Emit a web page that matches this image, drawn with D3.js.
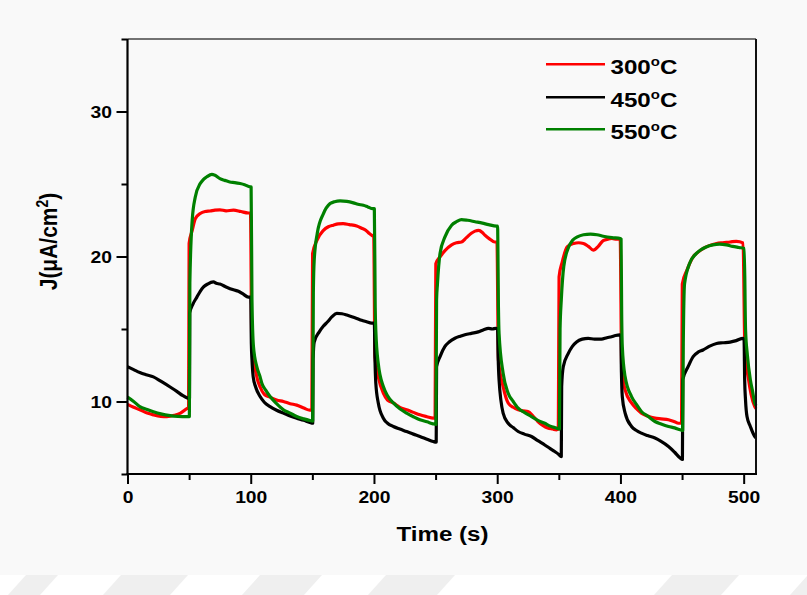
<!DOCTYPE html>
<html>
<head>
<meta charset="utf-8">
<script src="https://cdn.jsdelivr.net/npm/d3@7"></script>
<style>
  html, body { margin: 0; padding: 0; background: #ffffff; }
  svg { display: block; }
  text { font-family: "Liberation Sans", Arial, sans-serif; font-weight: bold; fill: #000; }
</style>
</head>
<body>
<svg id="chart" width="807" height="595"></svg>
<script>
// Tick values
const xMajorTicks = [0, 100, 200, 300, 400, 500];
const xMinorTicks = [50, 150, 250, 350, 450];
const yMajorTicks = [10, 20, 30];
const yMinorTicks = [5, 15, 25, 35];

// Series labels (annealing temperature) and colours
const seriesTemps = ["300", "450", "550"];
const seriesColors = ["#ff0000", "#000000", "#008000"];

// Photocurrent density J (µA/cm²) vs time (s), light chopped every 50 s
const j300 = [
  [0,9.8],[5,9.6],[10,9.43],[16,9.2],[21,9.08],[27,8.98],[32,8.96],[38,9.05],[43,9.2],[48,9.5],[49.6,9.6],
  [50,20.9],[52.5,21.8],[55,22.6],[59,22.96],[63,23.1],[67,23.14],[71,23.2],[75,23.22],[80,23.15],[86,23.2],[92,23.1],[98,23.0],[99.8,23.0],
  [100.8,14.2],[102,13.0],[103.5,12.3],[105.5,11.5],[107.6,11.0],[111,10.5],[115.7,10.3],[121,10.1],[126.5,10.0],[132,9.85],[137.3,9.75],[143,9.55],[148,9.4],[149.6,9.4],
  [150.2,20.2],[153.6,21.1],[159,21.8],[163,22.05],[167,22.16],[171,22.25],[175,22.27],[180,22.2],[186,22.1],[190,21.95],[193.6,21.8],[196,21.6],[198.5,21.45],[199.8,21.4],
  [200.8,13.1],[203.5,11.7],[207.6,10.57],[211,10.1],[215.7,9.9],[221,9.6],[226.5,9.43],[232,9.25],[237.3,9.08],[243,8.95],[248,8.85],[249.6,8.85],
  [250.2,19.5],[253.6,19.97],[257.6,20.4],[263,20.8],[267,20.95],[271,21.0],[275,21.3],[279,21.6],[282,21.75],[285,21.8],[288,21.65],[290,21.47],[294,21.2],[298,21.0],[299.8,21.0],
  [301,12.87],[304.8,11.03],[308.9,9.9],[313,9.6],[317,9.43],[321,9.35],[325,9.31],[329,9.0],[333,8.62],[337,8.35],[341,8.17],[345,8.1],[348,8.05],[349.6,8.1],
  [350.2,18.6],[352.7,19.6],[356.8,20.66],[362,20.9],[366,20.95],[370,20.9],[374,20.7],[378,20.44],[382,20.7],[386,21.1],[390,21.2],[393,21.24],[397,21.2],[399.8,21.2],
  [401,12.4],[403.8,10.8],[409,9.9],[413,9.5],[417,9.2],[422,9.0],[428,8.85],[433,8.8],[439,8.74],[444,8.6],[447,8.5],[449.6,8.5],
  [450.2,18.1],[454,19.06],[459,19.97],[463,20.3],[467,20.55],[472,20.75],[478,20.9],[483,20.95],[489,21.0],[494,21.05],[499.5,20.94],
  [501,13.55],[504,11.5],[506,10.5],[509,9.65],[510,9.5]
];

const j450 = [
  [0,12.4],[5,12.2],[10,12.0],[15,11.85],[21,11.7],[27,11.4],[34.6,11.0],[40,10.7],[45,10.4],[49,10.23],[50.3,10.2],
  [50.5,16.1],[53,16.7],[56.3,17.2],[59,17.6],[61.7,17.9],[65,18.1],[69.7,18.25],[72,18.15],[75,18.1],[80,17.9],[86,17.7],[90,17.6],[94,17.4],[98,17.2],[100,17.2],
  [100.5,14.0],[101,12.9],[102,11.7],[104,11.0],[107.6,10.34],[111,9.95],[115.7,9.65],[121,9.4],[126.5,9.2],[132,9.0],[137.3,8.85],[143,8.7],[148,8.55],[150.3,8.5],
  [150.6,12.87],[151.5,14.1],[155.6,14.8],[159,15.2],[162.4,15.5],[166,15.85],[169.8,16.08],[174,16.05],[178,15.96],[182,15.85],[186,15.73],[190,15.6],[194,15.5],[198,15.4],[200.3,15.4],
  [200.8,13.0],[201.5,11.26],[203.5,9.9],[207.6,8.85],[211,8.5],[215.7,8.28],[221,8.1],[226.5,7.93],[232,7.75],[237.3,7.59],[243,7.4],[248,7.24],[250.5,7.2],
  [250.8,12.4],[253.6,13.1],[257.6,13.8],[261,14.1],[265.7,14.36],[270,14.5],[273.8,14.6],[279,14.7],[284.6,14.8],[289,14.95],[292.8,15.05],[296,15.0],[299,15.05],[300.3,15.0],
  [300.8,13.0],[301.5,11.5],[304.8,9.2],[308.9,8.5],[313,8.2],[317,7.93],[322,7.75],[327.8,7.59],[333,7.3],[338.6,7.0],[343,6.75],[346.7,6.55],[350,6.35],[352,6.2],
  [352.3,11.03],[353.6,12.4],[357.6,13.3],[361,13.8],[364.4,14.1],[369,14.3],[373.8,14.36],[379,14.3],[384.6,14.3],[389,14.4],[392.8,14.47],[396,14.55],[399.5,14.59],[400.3,14.5],
  [400.8,12.0],[401.5,10.34],[403.8,9.2],[409,8.28],[413,8.0],[417,7.82],[422,7.65],[428,7.48],[433,7.25],[439,6.9],[444,6.5],[448.5,6.1],[450.3,6.0],
  [450.6,11.5],[454.9,12.4],[459,13.1],[463,13.4],[467,13.55],[472,13.8],[478,14.0],[483,14.05],[489,14.1],[494,14.2],[499.5,14.36],[500.3,14.3],
  [500.8,11.5],[501.5,10.1],[502.7,8.96],[505.4,8.28],[509,7.59],[510,7.5]
];

const j550 = [
  [0,10.3],[5,10.0],[10,9.65],[16,9.45],[21,9.3],[27,9.15],[34.6,9.03],[41,8.98],[48,8.96],[50.2,8.96],
  [50.6,18.2],[52.5,22.5],[55,24.1],[59,25.03],[61.5,25.3],[64.4,25.5],[68.5,25.67],[71,25.6],[75,25.37],[79,25.25],[83,25.14],[87,25.1],[91.4,25.03],[95,24.95],[99.5,24.8],[100.3,24.8],
  [101,17.0],[102.2,13.8],[104.9,12.4],[107.6,11.7],[109,11.26],[112,10.8],[115.7,10.34],[121,9.85],[126.5,9.43],[132,9.2],[137.3,8.96],[143,8.8],[148,8.69],[150.3,8.65],
  [150.8,17.5],[151.5,19.75],[154,21.6],[159,22.96],[164.4,23.65],[168,23.78],[172.5,23.83],[178,23.8],[183.3,23.7],[187,23.6],[191.4,23.53],[195,23.42],[199,23.3],[200.3,23.3],
  [201,16.5],[201.5,14.9],[203.5,12.6],[207.6,11.03],[211,10.4],[215.7,9.9],[221,9.5],[226.5,9.2],[232,8.95],[237.3,8.74],[243,8.6],[248,8.46],[250.3,8.42],
  [250.8,17.0],[251.5,18.1],[253.6,20.2],[257.6,21.35],[263,22.16],[267,22.4],[271,22.55],[276,22.5],[282,22.4],[288,22.3],[293,22.2],[299.5,22.1],[300.3,22.1],
  [301,16.5],[301.5,14.7],[304.8,11.95],[308.9,10.57],[313,10.0],[317,9.54],[322,9.25],[327.8,8.96],[333,8.7],[338.6,8.5],[343,8.3],[348,8.17],[350.5,8.1],
  [351,15.0],[352,17.0],[354,19.3],[358,20.66],[361,21.1],[365,21.35],[370,21.5],[375.7,21.54],[381,21.5],[386,21.4],[393,21.3],[400,21.24],[400.5,21.2],
  [401,16.0],[401.5,13.8],[403.8,11.7],[409,10.34],[413,9.8],[417,9.31],[422,9.0],[428,8.62],[433,8.45],[439,8.28],[444,8.18],[448.5,8.05],[450.5,8.0],
  [451,14.0],[452,18.1],[456,19.5],[461.5,20.2],[465,20.45],[469.6,20.66],[475,20.8],[480.4,20.85],[486,20.8],[491,20.7],[496,20.62],[500.5,20.55],
  [501.5,15.0],[503,13.2],[505.4,11.5],[507,10.8],[509,9.9],[510,9.7]
];

const seriesData = [j300, j450, j550];

const svg = d3.select("#chart");
const W = 807, H = 595;

// Page background: light image area with a white strip at the bottom
svg.append("rect").attr("x", 0).attr("y", 0).attr("width", W).attr("height", H).attr("fill", "#ffffff");
svg.append("rect").attr("x", 0).attr("y", 0).attr("width", W).attr("height", 575).attr("fill", "#f9f9f9");

// Faint slanted bands along the bottom strip
const bands = [[8, 40], [103, 170], [242, 304], [368, 437], [654, 721], [790, 840]];
bands.forEach(([a, b]) => {
  svg.append("polygon")
    .attr("points", `${a + 18},575 ${b + 18},575 ${b},595 ${a},595`)
    .attr("fill", "#efefef");
});

const plot = { left: 127.5, right: 756, top: 39, bottom: 474 };

const x = d3.scaleLinear().domain([0, 510]).range([plot.left, plot.right]);
const y = d3.scaleLinear().domain([5, 35]).range([plot.bottom, plot.top]);

// Series lines
const line = d3.line()
  .x(d => x(d[0]))
  .y(d => y(d[1]))
  .curve(d3.curveMonotoneX);

const lines = svg.append("g");
seriesData.forEach((data, i) => {
  lines.append("path")
    .datum(data)
    .attr("d", line)
    .attr("fill", "none")
    .attr("stroke", seriesColors[i])
    .attr("stroke-width", 3.2)
    .attr("stroke-linejoin", "round");
});

// Frame: top and right edges
svg.append("line")
  .attr("x1", plot.left).attr("x2", plot.right)
  .attr("y1", plot.top).attr("y2", plot.top)
  .attr("stroke", "#444").attr("stroke-width", 1.6);
svg.append("line")
  .attr("x1", plot.right).attr("x2", plot.right)
  .attr("y1", plot.top).attr("y2", plot.bottom)
  .attr("stroke", "#111").attr("stroke-width", 2);

// X axis
const xAxisG = svg.append("g").attr("transform", `translate(0,${plot.bottom})`);
xAxisG.append("g")
  .call(d3.axisBottom(x).tickValues(xMinorTicks).tickSize(6).tickFormat("").tickSizeOuter(0))
  .call(g => g.select(".domain").remove());
xAxisG.append("g")
  .call(d3.axisBottom(x).tickValues(xMajorTicks).tickSize(10).tickSizeOuter(0).tickFormat(d3.format("d")));
xAxisG.selectAll("line").attr("stroke", "#000").attr("stroke-width", 2);
xAxisG.selectAll(".domain").attr("stroke", "#000").attr("stroke-width", 2.2)
  .attr("d", `M${plot.left - 1},0H${plot.right + 1}`);
xAxisG.selectAll("text")
  .attr("y", 29.5).attr("dy", 0)
  .attr("transform", "scale(1.17,1)")
  .style("font-size", "16.5px");

// Y axis
const yAxisG = svg.append("g").attr("transform", `translate(${plot.left},0)`);
yAxisG.append("g")
  .call(d3.axisLeft(y).tickValues(yMinorTicks).tickSize(6).tickFormat("").tickSizeOuter(0))
  .call(g => g.select(".domain").remove());
yAxisG.append("g")
  .call(d3.axisLeft(y).tickValues(yMajorTicks).tickSize(11).tickSizeOuter(0).tickFormat(d3.format("d")));
yAxisG.selectAll("line").attr("stroke", "#000").attr("stroke-width", 2);
yAxisG.selectAll(".domain").attr("stroke", "#000").attr("stroke-width", 2.2)
  .attr("d", `M0,${plot.top}V${plot.bottom + 1}`);
yAxisG.selectAll("text")
  .attr("x", -15.5 / 1.17).attr("dy", 6.3)
  .attr("transform", "scale(1.17,1)")
  .style("font-size", "16.5px");

svg.selectAll(".tick text").attr("fill", "#000");

// Axis titles
svg.append("text")
  .attr("text-anchor", "middle")
  .attr("transform", `translate(442.5,541) scale(1.15,1)`)
  .style("font-size", "21px")
  .text("Time (s)");

const yTitle = svg.append("text")
  .attr("text-anchor", "middle")
  .attr("transform", `translate(57,241.5) rotate(-90) scale(1,1.15)`)
  .style("font-size", "21px");
yTitle.append("tspan").text("J(\u03BCA/cm");
yTitle.append("tspan").attr("dy", -8).style("font-size", "14px").text("2");
yTitle.append("tspan").attr("dy", 8).text(")");

// Legend: temperature with superscript "o" for degrees
const legendY = [64.3, 97.3, 129.3];
const legend = svg.append("g");
seriesTemps.forEach((temp, i) => {
  legend.append("line")
    .attr("x1", 546).attr("x2", 605)
    .attr("y1", legendY[i]).attr("y2", legendY[i])
    .attr("stroke", seriesColors[i]).attr("stroke-width", 2.6);
  const t = legend.append("text")
    .attr("transform", `translate(610.5,${legendY[i] + 9.3}) scale(1.15,1)`)
    .style("font-size", "21px");
  t.append("tspan").text(temp);
  t.append("tspan").attr("dy", -8).style("font-size", "13px").text("o");
  t.append("tspan").attr("dy", 8).text("C");
});
</script>
</body>
</html>
